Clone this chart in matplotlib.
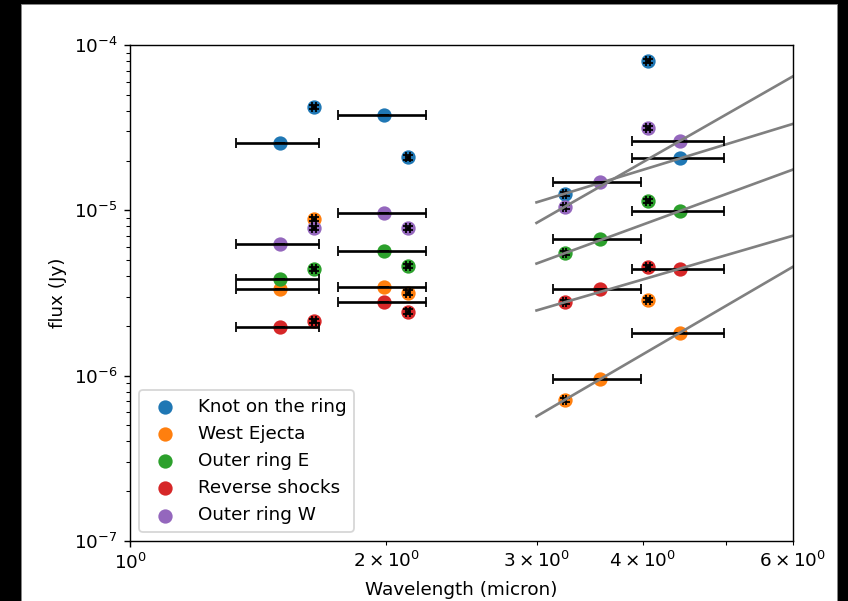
import numpy as np
import matplotlib
matplotlib.use("Agg")
import matplotlib.pyplot as plt
from matplotlib.patches import Rectangle

# Filter pivot wavelengths (micron) and band edges
filters = ["F150W", "F164N", "F200W", "F212N", "F323N", "F356W", "F405N", "F444W"]
wavelength = [1.501, 1.645, 1.988, 2.121, 3.237, 3.563, 4.052, 4.421]
band_lo = [1.331, 1.635, 1.755, 2.109, 3.224, 3.140, 4.029, 3.880]
band_hi = [1.668, 1.655, 2.226, 2.134, 3.250, 3.980, 4.074, 4.986]
is_narrow = [False, True, False, True, True, False, True, False]

# Measured fluxes (Jy); None where a region has no measurement
knot_ring = [2.57e-5, 4.23e-5, 3.76e-5, 2.09e-5, 1.26e-5, None, 8.04e-5, 2.06e-5]
west_ejecta = [3.33e-6, 8.86e-6, 3.42e-6, 3.18e-6, 7.13e-7, 9.54e-7, 2.87e-6, 1.82e-6]
outer_ring_e = [3.83e-6, 4.40e-6, 5.68e-6, 4.61e-6, 5.50e-6, 6.71e-6, 1.14e-5, 9.91e-6]
reverse_shocks = [1.98e-6, 2.14e-6, 2.80e-6, 2.44e-6, 2.78e-6, 3.33e-6, 4.56e-6, 4.44e-6]
outer_ring_w = [6.26e-6, 7.79e-6, 9.60e-6, 7.79e-6, 1.05e-5, 1.48e-5, 3.16e-5, 2.63e-5]

series = [
    ("Knot on the ring", knot_ring),
    ("West Ejecta", west_ejecta),
    ("Outer ring E", outer_ring_e),
    ("Reverse shocks", reverse_shocks),
    ("Outer ring W", outer_ring_w),
]
flux_rel_err = 0.03          # narrow-band photometric uncertainty
fit_range = (3.0, 6.0)       # extent of the power-law extrapolation

plt.rcParams["font.size"] = 10.4

DPI = 127.5
fig = plt.figure(figsize=(848 / DPI, 601 / DPI), dpi=DPI, facecolor="black")
fig.add_artist(Rectangle((21 / 848, 0), 816 / 848, 597 / 601,
                         transform=fig.transFigure, facecolor="white",
                         edgecolor="#888888", lw=0.5, zorder=-10))
ax = fig.add_axes([130 / 848, 60 / 601, 663 / 848, 496 / 601])

wl = np.array(wavelength)
lo = np.array(band_lo)
hi = np.array(band_hi)
narrow = np.array(is_narrow)
i323 = filters.index("F323N")
i444 = filters.index("F444W")

for label, vals in series:
    f = np.array([np.nan if v is None else v for v in vals], dtype=float)
    ok = ~np.isnan(f)
    ax.scatter(wl[ok], f[ok], s=50, label=label)
    xerr = np.vstack([wl - lo, hi - wl])
    yerr = np.where(narrow, f * flux_rel_err, 0.0)
    yerr = np.vstack([yerr, yerr])
    ax.errorbar(wl[ok], f[ok], xerr=xerr[:, ok], yerr=yerr[:, ok],
                fmt="none", ecolor="black", capsize=3)
    # power law through the F323N and F444W fluxes
    alpha = np.log(f[i444] / f[i323]) / np.log(wl[i444] / wl[i323])
    xx = np.linspace(*fit_range, 50)
    ax.plot(xx, f[i323] * (xx / wl[i323]) ** alpha, color="gray")

ax.set_xscale("log")
ax.set_yscale("log")
ax.set_xlim(1, 6)
ax.set_ylim(1e-7, 1e-4)
ax.set_xlabel("Wavelength (micron)")
ax.set_ylabel("flux (Jy)")
ax.legend(loc="lower left")

fig.savefig("out.png", dpi=DPI, facecolor=fig.get_facecolor())
